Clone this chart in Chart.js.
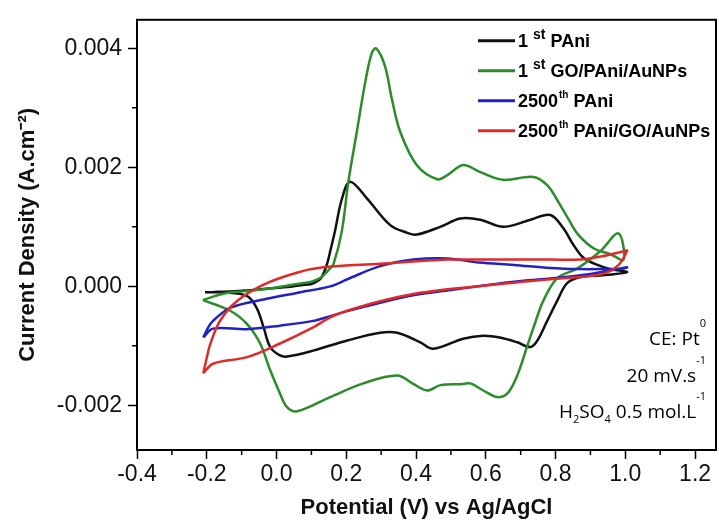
<!DOCTYPE html>
<html lang="en">
<head>
    <meta charset="UTF-8">
    <title>Cyclic voltammograms</title>
    <script src="https://cdn.jsdelivr.net/npm/chart.js"></script>
    <style>
        body { margin: 0; background: #fff; }
    </style>
</head>
<body>
    <canvas id="cv" width="719" height="523"></canvas>
    <script>
        // potential (V) and current density (A/cm2), one loop per curve
        const pani1V = [-0.205, -0.15, -0.09, -0.03, 0.03, 0.07, 0.1, 0.12, 0.13, 0.144, 0.156, 0.168, 0.187, 0.211, 0.259, 0.326, 0.375, 0.402, 0.469, 0.527, 0.584, 0.65, 0.728, 0.785, 0.822, 0.851, 0.88, 0.92, 0.957, 0.99, 1.005,
            0.96, 0.92, 0.88, 0.834, 0.805, 0.776, 0.748, 0.728, 0.69, 0.64, 0.593, 0.535, 0.449, 0.412, 0.346, 0.297, 0.203, 0.105, 0.03, 0.01, -0.018, -0.037, -0.057, -0.085, -0.15, -0.205];
        const pani1I = [-0.0001, -0.00009, -0.00007, -0.00004, -0.00001, 0.00002, 0.00004, 0.0001, 0.00016, 0.00036, 0.00064, 0.00094, 0.00146, 0.00176, 0.00148, 0.00103, 0.0009, 0.00087, 0.001, 0.00114, 0.00112, 0.001, 0.00112, 0.0012, 0.00098, 0.0007, 0.00048, 0.00036, 0.00029, 0.00026, 0.00024,
            0.0002, 0.00018, 0.00017, 0.00006, -0.00024, -0.00058, -0.00091, -0.00102, -0.00094, -0.00086, -0.00083, -0.00088, -0.00105, -0.00094, -0.00078, -0.00078, -0.00091, -0.00108, -0.00118, -0.00116, -0.00102, -0.00069, -0.00036, -0.00016, -0.0001, -0.0001];

        const go1V = [-0.211, -0.15, -0.084, 0.0, 0.059, 0.1, 0.125, 0.15, 0.163, 0.187, 0.206, 0.23, 0.254, 0.273, 0.286, 0.311, 0.331, 0.355, 0.403, 0.461, 0.49, 0.535, 0.584, 0.65, 0.736, 0.776, 0.81, 0.84, 0.865, 0.909, 0.957, 0.995,
            0.98, 0.928, 0.862, 0.805, 0.765, 0.737, 0.719, 0.69, 0.662, 0.633, 0.593, 0.556, 0.535, 0.47, 0.432, 0.392, 0.346, 0.249, 0.154, 0.059, 0.03, 0.01, -0.018, -0.047, -0.085, -0.133, -0.211];
        const go1I = [-0.00023, -0.00012, -0.00008, -0.00002, 0.00004, 0.00008, 0.00014, 0.00028, 0.00037, 0.00092, 0.00176, 0.00259, 0.00342, 0.00392, 0.004, 0.0037, 0.00314, 0.00259, 0.00203, 0.0018, 0.00187, 0.00204, 0.00192, 0.00179, 0.00184, 0.0017, 0.0014, 0.0011, 0.00087, 0.00064, 0.00054, 0.00045,
            0.00089, 0.00059, 0.0003, 0.00014, -0.00024, -0.00069, -0.001, -0.0015, -0.0018, -0.00186, -0.00175, -0.00163, -0.00164, -0.00166, -0.00175, -0.00164, -0.0015, -0.00163, -0.00186, -0.0021, -0.00203, -0.0018, -0.00141, -0.00096, -0.00063, -0.00041, -0.00023];

        const pani2500V = [-0.21, -0.195, -0.182, -0.133, -0.037, 0.058, 0.154, 0.203, 0.297, 0.392, 0.49, 0.58, 0.68, 0.785, 0.87, 0.928, 0.995, 1.005,
            0.96, 0.9, 0.8, 0.7, 0.6, 0.5, 0.4, 0.3, 0.2, 0.154, 0.105, 0.01, -0.085, -0.182, -0.21];
        const pani2500I = [-0.00086, -0.00068, -0.00058, -0.00036, -0.00022, -0.00011, 0.0, 0.00012, 0.00034, 0.00045, 0.00047, 0.0004, 0.00036, 0.00031, 0.00029, 0.00029, 0.0003, 0.00032,
            0.00027, 0.00021, 0.00014, 0.00009, 0.00002, -0.00006, -0.00014, -0.00027, -0.00042, -0.0005, -0.00058, -0.00066, -0.00072, -0.00071, -0.00086];

        const go2500V = [-0.21, -0.2, -0.19, -0.162, -0.114, -0.037, 0.058, 0.134, 0.297, 0.49, 0.6, 0.785, 0.87, 0.928, 0.995, 1.005,
            0.977, 0.928, 0.785, 0.642, 0.49, 0.392, 0.297, 0.203, 0.154, 0.105, 0.01, -0.085, -0.182, -0.21];
        const go2500I = [-0.00146, -0.0012, -0.00097, -0.00058, -0.00025, 0.00003, 0.00023, 0.00032, 0.00038, 0.00045, 0.00045, 0.00045, 0.00045, 0.0005, 0.00059, 0.0006,
            0.00034, 0.0002, 0.00012, 0.00004, -0.00005, -0.00013, -0.00025, -0.00041, -0.00052, -0.00069, -0.00096, -0.00119, -0.0013, -0.00146];

        const seriesLabels = ['1st PAni', '1st GO/PAni/AuNPs', '2500th PAni', '2500th PAni/GO/AuNPs'];
        const seriesColors = ['#111111', '#2a8c2a', '#2222c0', '#e02a2a'];

        const xTicks = [-0.4, -0.2, 0.0, 0.2, 0.4, 0.6, 0.8, 1.0, 1.2];
        const xMinor = [-0.3, -0.1, 0.1, 0.3, 0.5, 0.7, 0.9, 1.1];
        const yTicks = [-0.002, 0.0, 0.002, 0.004];
        const yMinor = [-0.001, 0.001, 0.003];

        const toPoints = (vs, is) => vs.map((v, k) => ({ x: v, y: is[k] }));
        const curves = [
            toPoints(pani1V, pani1I),
            toPoints(go1V, go1I),
            toPoints(pani2500V, pani2500I),
            toPoints(go2500V, go2500I)
        ];

        // top/right frame, minor ticks, legend and notes
        const framePlugin = {
            id: 'frame',
            afterDraw(chart) {
                const { ctx, chartArea: a, scales } = chart;
                ctx.save();
                ctx.strokeStyle = '#000';
                ctx.lineWidth = 2;
                ctx.strokeRect(a.left, a.top, a.right - a.left, a.bottom - a.top);
                ctx.lineWidth = 1.5;
                ctx.beginPath();
                xMinor.forEach(v => {
                    const px = scales.x.getPixelForValue(v);
                    ctx.moveTo(px, a.bottom); ctx.lineTo(px, a.bottom + 5);
                });
                yMinor.forEach(v => {
                    const py = scales.y.getPixelForValue(v);
                    ctx.moveTo(a.left, py); ctx.lineTo(a.left - 5, py);
                });
                ctx.stroke();

                // legend
                ctx.textBaseline = 'alphabetic';
                ctx.textAlign = 'left';
                chart.data.datasets.forEach((ds, i) => {
                    const y = a.top + 21 + i * 30;
                    const x0 = a.right - 238;
                    ctx.strokeStyle = ds.borderColor;
                    ctx.lineWidth = 3;
                    ctx.beginPath();
                    ctx.moveTo(x0, y); ctx.lineTo(x0 + 37, y);
                    ctx.stroke();
                    const m = ds.label.match(/^(\d+)(st|th)(.*)$/);
                    let x = x0 + 40;
                    const base = y + 6;
                    ctx.fillStyle = '#000';
                    ctx.font = 'bold 18px "Liberation Sans", Arial, sans-serif';
                    ctx.fillText(m[1], x, base);
                    x += ctx.measureText(m[1]).width;
                    if (m[2] === 'st') {
                        x += 5;
                        ctx.font = 'bold 14px "Liberation Sans", Arial, sans-serif';
                        ctx.fillText(m[2], x, base - 8);
                    } else {
                        x += 1;
                        ctx.font = 'bold 10px "Liberation Sans", Arial, sans-serif';
                        ctx.fillText(m[2], x, base - 9);
                    }
                    x += ctx.measureText(m[2]).width;
                    ctx.font = 'bold 18px "Liberation Sans", Arial, sans-serif';
                    ctx.fillText(m[3], x, base);
                });

                // experimental notes, right aligned
                const notes = [
                    [['CE: Pt', 0], ['0', -18]],
                    [['20 mV.s', 0], ['-1', -18]],
                    [['H', 0], ['2', 5], ['SO', 0], ['4', 5], [' 0.5 mol.L', 0], ['-1', -18]]
                ];
                const noteBase = [a.bottom - 105, a.bottom - 68, a.bottom - 32];
                notes.forEach((runs, j) => {
                    const fonts = runs.map(r => r[1] === 0 ? '19px "Open Sans", sans-serif' : '11px "Open Sans", sans-serif');
                    let w = 0;
                    runs.forEach((r, k) => { ctx.font = fonts[k]; w += ctx.measureText(r[0]).width; });
                    let x = a.right - 10 - w;
                    runs.forEach((r, k) => {
                        ctx.font = fonts[k];
                        ctx.fillText(r[0], x, noteBase[j] + r[1]);
                        x += ctx.measureText(r[0]).width;
                    });
                });
                ctx.restore();
            }
        };

        const tickFont = { family: '"Liberation Sans", Arial, sans-serif', size: 23 };
        const titleFont = { family: '"Liberation Sans", Arial, sans-serif', size: 22, weight: 'bold' };

        new Chart(document.getElementById('cv'), {
            type: 'scatter',
            data: {
                datasets: curves.map((pts, i) => ({
                    label: seriesLabels[i],
                    data: pts,
                    showLine: true,
                    borderColor: seriesColors[i],
                    borderWidth: 2.5,
                    pointRadius: 0,
                    tension: 0.35,
                    order: 4 - i
                }))
            },
            options: {
                responsive: false,
                animation: false,
                layout: { padding: { top: 16, right: 3, left: 0, bottom: 0 } },
                plugins: { legend: { display: false }, tooltip: { enabled: false } },
                scales: {
                    x: {
                        type: 'linear',
                        min: -0.4,
                        max: 1.26,
                        afterBuildTicks: s => { s.ticks = xTicks.map(v => ({ value: v })); },
                        afterFit: s => { s.height = 73; },
                        ticks: {
                            color: '#111',
                            font: tickFont,
                            padding: 2,
                            maxRotation: 0,
                            autoSkip: false,
                            callback: v => v.toFixed(1)
                        },
                        grid: { drawOnChartArea: false, tickLength: 9, tickWidth: 1.5, tickColor: '#000' },
                        border: { color: '#000', width: 2 },
                        title: { display: true, text: 'Potential (V) vs Ag/AgCl', color: '#111', font: titleFont, padding: { top: 0, bottom: 2 } }
                    },
                    y: {
                        type: 'linear',
                        min: -0.00275,
                        max: 0.00448,
                        afterBuildTicks: s => { s.ticks = yTicks.map(v => ({ value: v })); },
                        afterFit: s => { s.width = 137; },
                        ticks: {
                            color: '#111',
                            font: tickFont,
                            padding: 6,
                            autoSkip: false,
                            callback: v => v.toFixed(3)
                        },
                        grid: { drawOnChartArea: false, tickLength: 9, tickWidth: 1.5, tickColor: '#000' },
                        border: { color: '#000', width: 2 },
                        title: { display: true, text: 'Current Density (A.cm⁻²)', color: '#111', font: titleFont, padding: { top: 15, bottom: 0 } }
                    }
                }
            },
            plugins: [framePlugin]
        });
    </script>
</body>
</html>
